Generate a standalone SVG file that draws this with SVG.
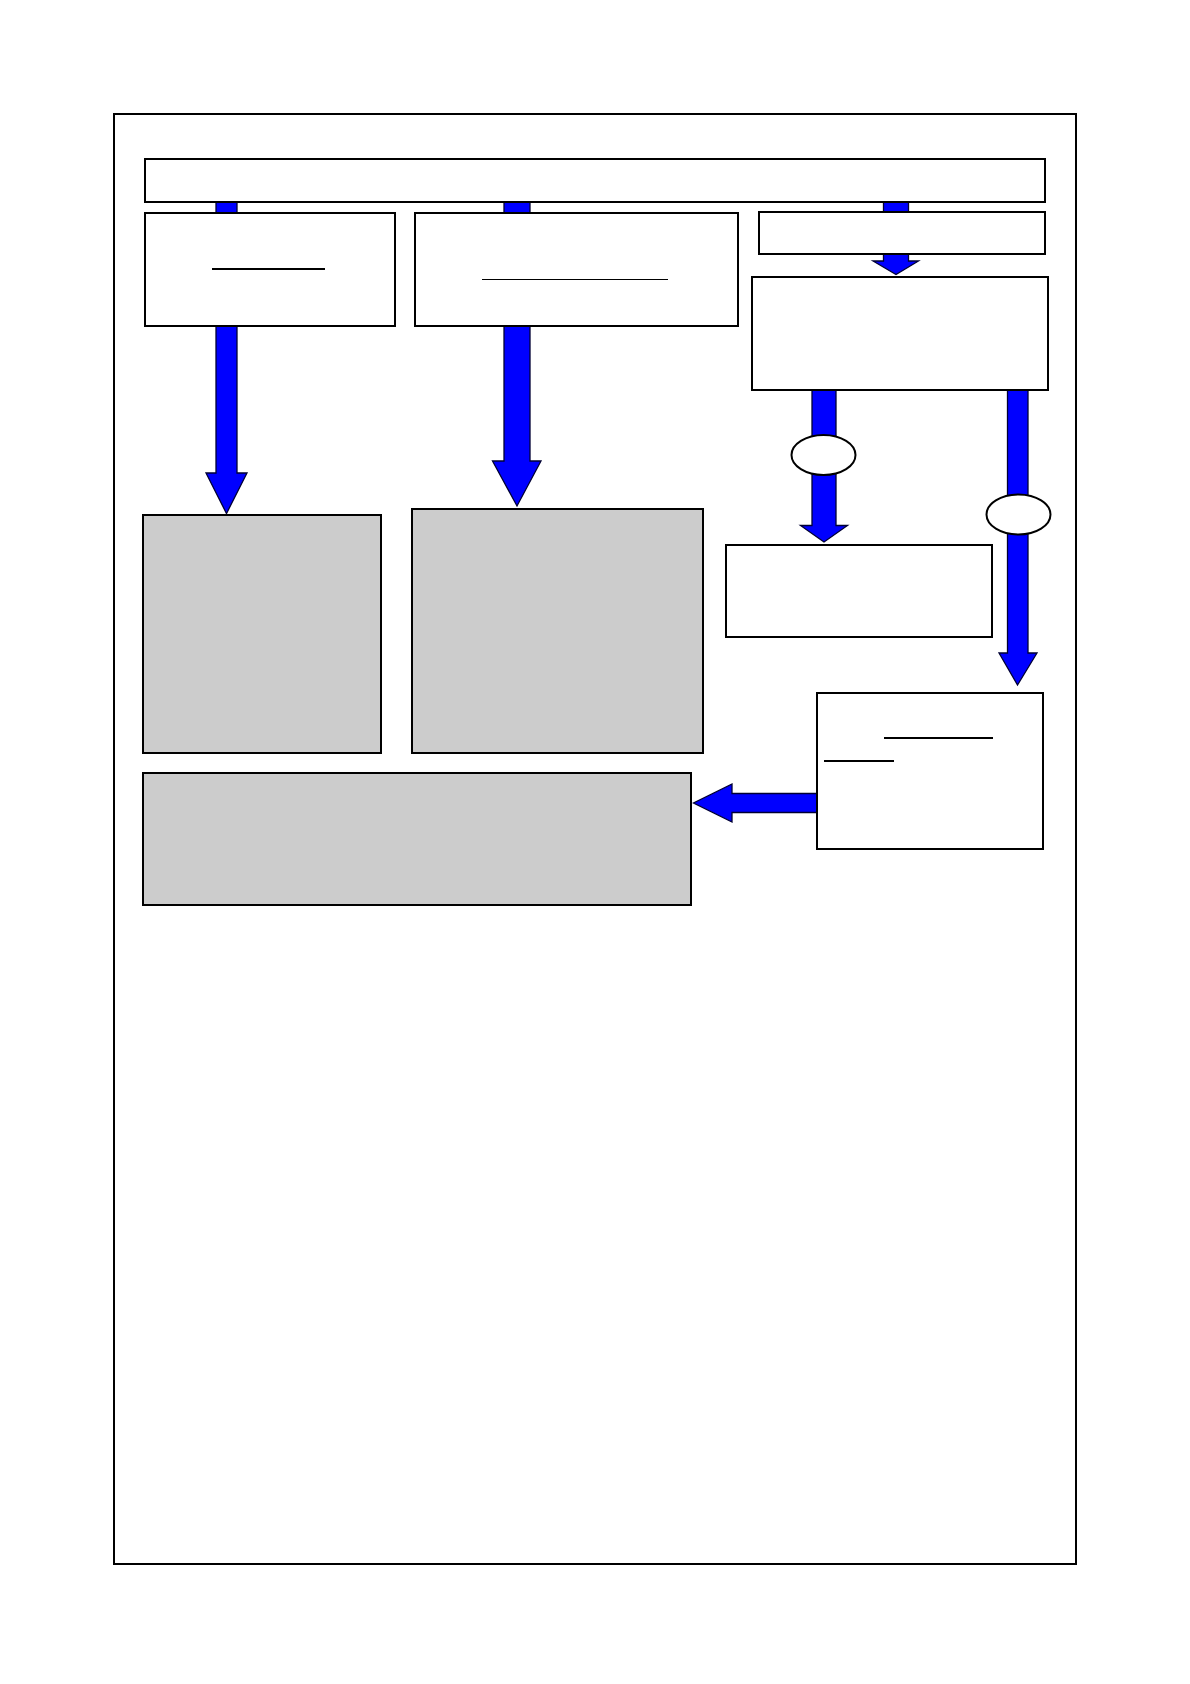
<svg xmlns="http://www.w3.org/2000/svg" width="1190" height="1684" viewBox="0 0 1190 1684">
<style>
.box{fill:#ffffff;stroke:#000000;stroke-width:2}
.gray{fill:#cccccc;stroke:#000000;stroke-width:2}
.arr{fill:#0000ff;stroke:#000033;stroke-width:1.3;stroke-linejoin:miter}
.ul{stroke:#000000}
.oval{fill:#ffffff;stroke:#000000;stroke-width:2}
</style>
<rect x="0" y="0" width="1190" height="1684" fill="#ffffff"/>
<rect id="frame" x="114" y="114" width="962" height="1450" fill="none" stroke="#000000" stroke-width="2"/>
<g id="connectors">
<path class="arr" d="M216,201 L237,201 L237,473 L247,473 L226.5,513.5 L206,473 L216,473 Z"/>
<path class="arr" d="M504,201 L530,201 L530,461 L541,461 L517,506 L492.5,461 L504,461 Z"/>
<path class="arr" d="M883.5,201 L908.5,201 L908.5,261 L918.5,261 L896,274.5 L873,261 L883.5,261 Z"/>
<path class="arr" d="M812,390 L836,390 L836,525.5 L847.5,525.5 L824,542 L800.5,525.5 L812,525.5 Z"/>
<path class="arr" d="M1007.5,390 L1028,390 L1028,653 L1037,653 L1017.5,685 L999,653 L1007.5,653 Z"/>
<path class="arr" d="M818,793.5 L732,793.5 L732,784 L693.5,803 L732,822 L732,812.5 L818,812.5 Z"/>
<ellipse class="oval" cx="823.5" cy="455" rx="32" ry="20"/>
<ellipse class="oval" cx="1018.5" cy="514.5" rx="32" ry="20"/>
</g>
<g id="banner"><rect class="box" x="145" y="159" width="900" height="43"/></g>
<g id="box1"><rect class="box" x="145" y="213" width="250" height="113"/><line class="ul" x1="212" y1="269" x2="325" y2="269" stroke-width="2"/></g>
<g id="box2"><rect class="box" x="415" y="213" width="323" height="113"/><line class="ul" x1="482" y1="279.5" x2="668" y2="279.5" stroke-width="1"/></g>
<g id="box3"><rect class="box" x="759" y="212" width="286" height="42"/></g>
<g id="box4"><rect class="box" x="752" y="277" width="296" height="113"/></g>
<g id="box5"><rect class="box" x="726" y="545" width="266" height="92"/></g>
<g id="box6"><rect class="box" x="817" y="693" width="226" height="156"/><line class="ul" x1="884" y1="738" x2="993" y2="738" stroke-width="2"/><line class="ul" x1="824" y1="761" x2="894" y2="761" stroke-width="2"/></g>
<g id="gray1"><rect class="gray" x="143" y="515" width="238" height="238"/></g>
<g id="gray2"><rect class="gray" x="412" y="509" width="291" height="244"/></g>
<g id="gray3"><rect class="gray" x="143" y="773" width="548" height="132"/></g>
</svg>
